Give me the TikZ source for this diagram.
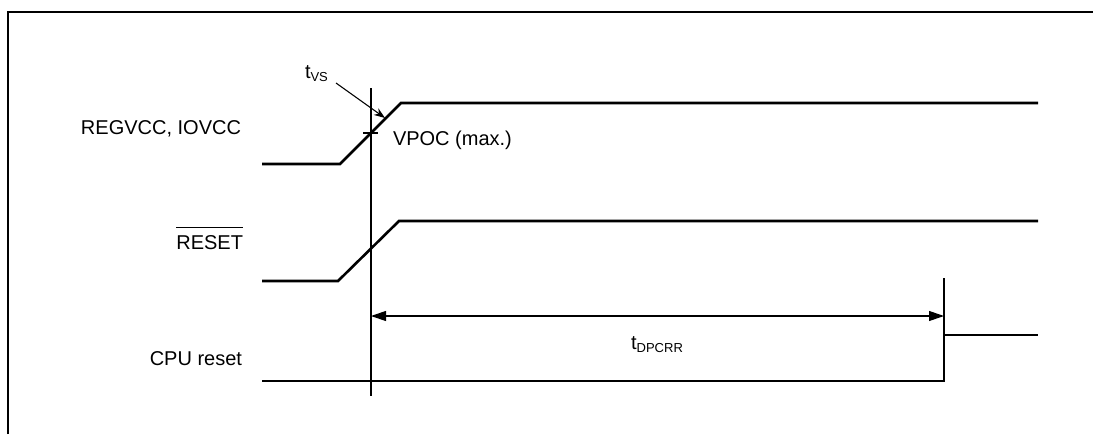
\documentclass[tikz,border=0pt]{standalone}
\usepackage{fontspec}
\setmainfont{Liberation Sans}
\usetikzlibrary{arrows.meta}
\newcommand\sigsub[1]{\raisebox{-3.5pt}{\fontsize{13}{13}\selectfont #1}}
\begin{document}
\begin{tikzpicture}[x=1pt,y=-1pt,
  sig/.style={line width=2.6pt, line join=miter},
  thinline/.style={line width=1.1pt},
  lbl/.style={inner sep=0pt, outer sep=0pt, font=\fontsize{20}{24}\selectfont},
  dimarrow/.style={thinline, {Triangle[length=15pt,width=10pt]}-{Triangle[length=15pt,width=10pt]}},
  ptr/.style={thinline, -{Stealth[length=11pt,width=8pt]}}]
\useasboundingbox (0,0) rectangle (1093,434);
% frame
\draw[line width=2.5pt] (8,434) -- (8,12) -- (1093,12);
% coordinates
\coordinate (a0) at (262,164); \coordinate (a1) at (340,164);
\coordinate (a2) at (401,103); \coordinate (a3) at (1038,103);
\coordinate (r0) at (262,281); \coordinate (r1) at (338,281);
\coordinate (r2) at (399,221); \coordinate (r3) at (1038,221);
\coordinate (c0) at (262,381); \coordinate (c1) at (944,381);
\coordinate (c2) at (944,335); \coordinate (c3) at (1038,335);
\coordinate (v1top) at (371,88); \coordinate (v1bot) at (371,396);
\coordinate (v2top) at (944,278);
\coordinate (d0) at (371,316); \coordinate (d1) at (944,316);
\coordinate (k0) at (363,133); \coordinate (k1) at (378,133);
\coordinate (p0) at (336,83); \coordinate (p1) at (385,118);
% signals
\draw[sig] (a0) -- (a1) -- (a2) -- (a3);
\draw[sig] (r0) -- (r1) -- (r2) -- (r3);
\draw[sig] (c0) -- (c1) -- (c2) -- (c3);
% timing lines
\draw[thinline] (v1top) -- (v1bot);
\draw[thinline] (v2top) -- (c2);
\draw[thinline] (k0) -- (k1);
\draw[dimarrow] (d0) -- (d1);
\draw[ptr] (p0) -- (p1);
% labels
\node[lbl, anchor=base east] (lreg) at (241,134) {REGVCC, IOVCC};
\node[lbl, anchor=base east] (lrst) at (243,249) {RESET};
\draw[line width=0.9pt] ([yshift=8pt]lrst.north west) -- ([yshift=8pt]lrst.north east);
\node[lbl, anchor=base east] (lcpu) at (242,365) {CPU reset};
\node[lbl, anchor=base west] (lvpoc) at (393,145) {VPOC (max.)};
\node[lbl, anchor=base west] (ltvs) at (305,78) {t\sigsub{VS}};
\node[lbl, anchor=base] (ltd) at (657,349) {t\sigsub{DPCRR}};
\end{tikzpicture}
\end{document}
